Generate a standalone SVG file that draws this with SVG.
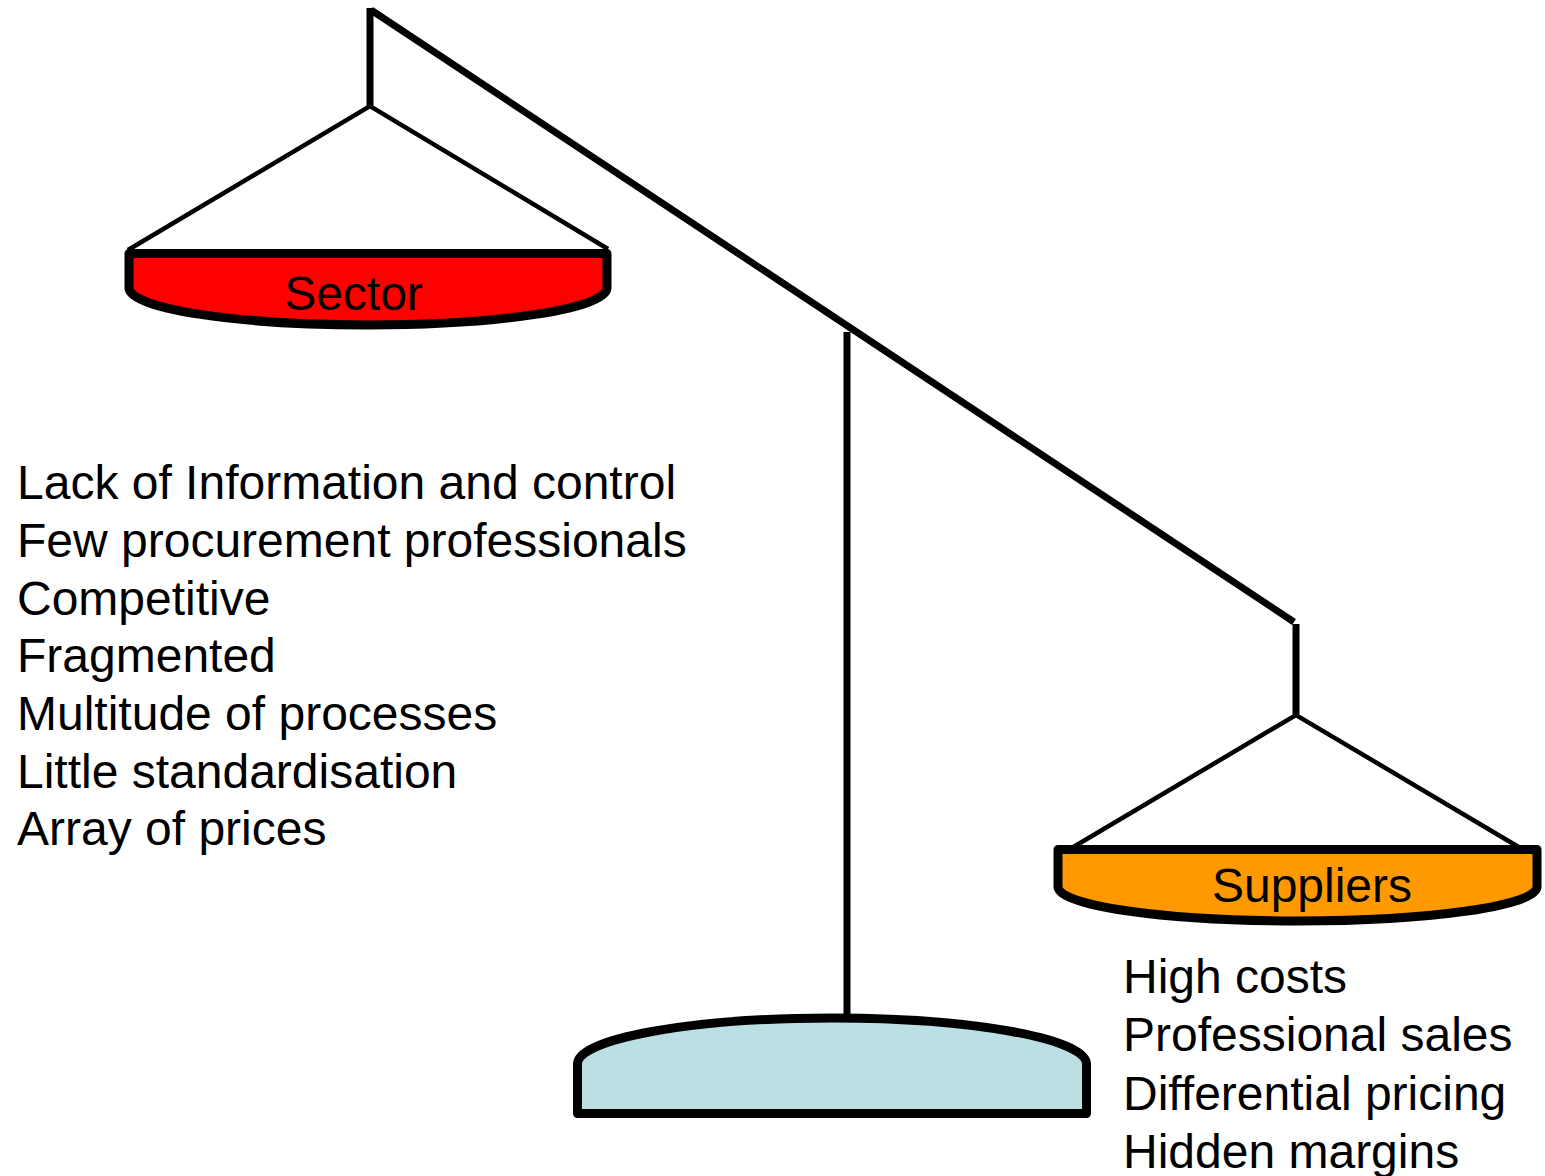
<svg xmlns="http://www.w3.org/2000/svg" width="1545" height="1176" viewBox="0 0 1545 1176">
<style>
.t{font-family:"Liberation Sans",Arial,Helvetica,sans-serif;font-size:48px;fill:#000}
.c{text-anchor:middle}
.pan{stroke:#000;stroke-width:9;stroke-linejoin:round}
.str{stroke:#000;stroke-width:4.5;fill:none}
.bar{stroke:#000;stroke-width:7;fill:none}
</style>
<rect width="1545" height="1176" fill="#fff"/>
<g id="connectors">
<line class="bar" x1="370" y1="8" x2="370" y2="106" stroke-width="6"/>
<line class="bar" x1="371" y1="10" x2="1294" y2="622"/>
<line class="bar" x1="1296" y1="624" x2="1296" y2="715" stroke-width="6"/>
<line class="bar" x1="847" y1="332" x2="847" y2="1018"/>
<polyline class="str" points="128,250 370,106 608,249"/>
<polyline class="str" points="1070,849 1296,715 1522,849"/>
</g>
<g id="sector">
<path class="pan" fill="#FF0000" d="M129,253.5 H607 V288 A239,37 0 0 1 129,288 Z"/>
<text class="t c" x="353.5" y="310">Sector</text>
</g>
<g id="suppliers">
<path class="pan" fill="#FF9900" d="M1058,849.5 H1537 V887 A239.5,34 0 0 1 1058,887 Z"/>
<text class="t c" x="1312" y="902">Suppliers</text>
</g>
<g id="base">
<path class="pan" fill="#BBE0E3" d="M577.5,1113.5 V1064 A254.5,46 0 0 1 1086.5,1064 V1113.5 Z" stroke-linejoin="miter"/>
</g>
<g id="sector-list">
<text class="t" x="17" y="499">Lack of Information and control</text>
<text class="t" x="17" y="557">Few procurement professionals</text>
<text class="t" x="17" y="615">Competitive</text>
<text class="t" x="17" y="672">Fragmented</text>
<text class="t" x="17" y="730">Multitude of processes</text>
<text class="t" x="17" y="788">Little standardisation</text>
<text class="t" x="17" y="845">Array of prices</text>
</g>
<g id="supplier-list">
<text class="t" x="1123" y="993">High costs</text>
<text class="t" x="1123" y="1051">Professional sales</text>
<text class="t" x="1123" y="1110">Differential pricing</text>
<text class="t" x="1123" y="1168">Hidden margins</text>
</g>
</svg>
